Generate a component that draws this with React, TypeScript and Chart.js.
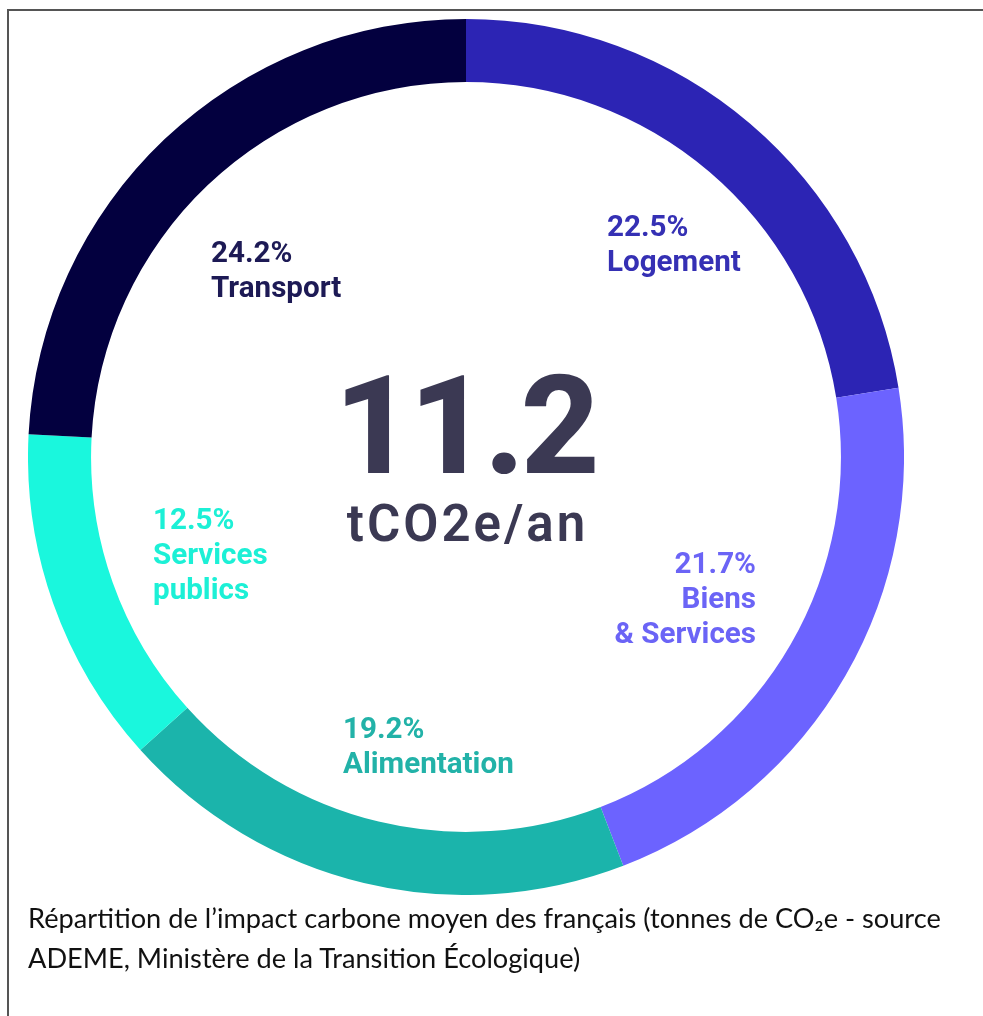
import React, { useEffect, useRef } from "react";
import { Chart, registerables } from "chart.js";

Chart.register(...registerables);

const categories = ["Logement", "Biens & Services", "Alimentation", "Services publics", "Transport"];
const shares = [22.5, 21.7, 19.2, 12.5, 24.2];
const labelLines = [["22.5%", "Logement"], ["21.7%", "Biens", "& Services"], ["19.2%", "Alimentation"], ["12.5%", "Services", "publics"], ["24.2%", "Transport"]];
const ringColors = ["#2C24B4", "#6C63FF", "#1BB4AB", "#1AF7DD", "#03003F"];
const textColors = ["#3530B4", "#6B64F6", "#22B2A8", "#1CF0D6", "#1D1A55"];
const totalValue = "11.2";
const totalUnit = "tCO2e/an";
const caption = ["Répartition de l’impact carbone moyen des français (tonnes de CO₂e - source", "ADEME, Ministère de la Transition Écologique)"];

// label placement relative to the doughnut centre: [dx, dy of first baseline, align]
const labelLayout: [number, number, CanvasTextAlign][] = [
  [141, -221, "left"],
  [290, 116, "right"],
  [-123, 281, "left"],
  [-313, 72, "left"],
  [-255, -195, "left"],
];

const labelPlugin = {
  id: "arcLabels",
  afterDatasetsDraw(chart: any) {
    const ctx = chart.ctx;
    const meta = chart.getDatasetMeta(0);
    ctx.save();
    ctx.font = "bold 29.6px Roboto";
    ctx.textBaseline = "alphabetic";
    meta.data.forEach((arc: any, i: number) => {
      const { x, y } = arc.getProps(["x", "y"], true);
      const [dx, dy, align] = labelLayout[i];
      ctx.fillStyle = textColors[i];
      ctx.textAlign = align;
      labelLines[i].forEach((line, j) => {
        ctx.fillText(line, x + dx, y + dy + j * 35);
      });
    });
    ctx.restore();
  },
};

export default function App() {
  const ref = useRef<HTMLCanvasElement | null>(null);
  useEffect(() => {
    if (!ref.current) return;
    const chart = new Chart(ref.current, {
      type: "doughnut",
      data: {
        labels: categories,
        datasets: [
          {
            data: shares,
            backgroundColor: ringColors,
            borderWidth: 0,
          },
        ],
      },
      options: {
        animation: false,
        responsive: false,
        cutout: "85.6%",
        layout: { padding: 0 },
        plugins: { legend: { display: false }, tooltip: { enabled: false } },
      },
      plugins: [labelPlugin],
    });
    return () => chart.destroy();
  }, []);

  return (
    <div style={{ position: "relative", width: 967, height: 1000 }}>
      <div
        style={{
          position: "fixed",
          left: 7,
          top: 9,
          width: 990,
          height: 1020,
          borderLeft: "2px solid #555",
          borderTop: "2px solid #555",
          boxSizing: "border-box",
        }}
      />
      <canvas ref={ref} width={876} height={876} style={{ position: "absolute", left: 20, top: 11, width: 876, height: 876 }} />
      <div
        style={{
          position: "absolute",
          left: 0,
          width: 916,
          top: 0,
          textAlign: "center",
          color: "#3B3953",
          fontFamily: "Roboto",
        }}
      >
        <div style={{ position: "absolute", width: 914, top: 346, fontSize: 137, fontWeight: 800, lineHeight: "145px", letterSpacing: -4 }}>{totalValue}</div>
        <div style={{ position: "absolute", width: 919, top: 486, fontSize: 51, fontWeight: 600, lineHeight: "60px", letterSpacing: 3 }}>{totalUnit}</div>
      </div>
      <div
        style={{
          position: "absolute",
          left: 20,
          top: 890,
          fontFamily: "Lato",
          fontSize: 27.2,
          lineHeight: "40px",
          color: "#111",
          whiteSpace: "nowrap",
        }}
      >
        <div>{caption[0]}</div>
        <div>{caption[1]}</div>
      </div>
    </div>
  );
}
